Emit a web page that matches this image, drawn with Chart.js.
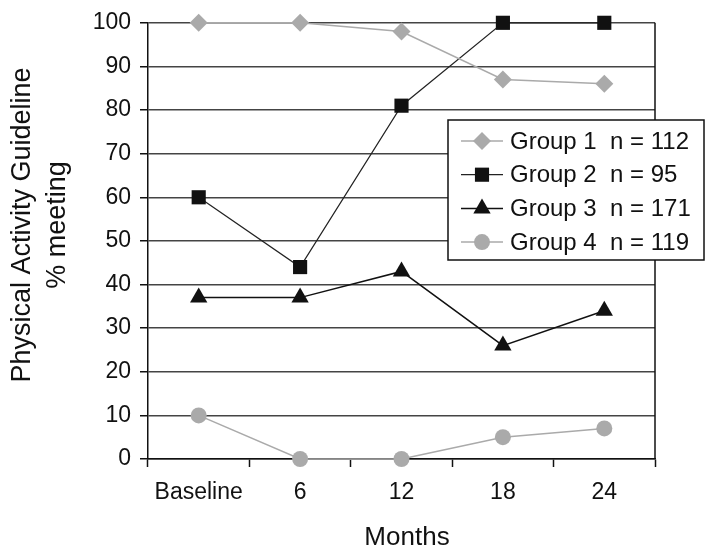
<!DOCTYPE html>
<html>
<head>
<meta charset="utf-8">
<script src="https://cdn.jsdelivr.net/npm/chart.js@4.4.0/dist/chart.umd.min.js"></script>
<style>
  body { margin: 0; background: #fff; }
  canvas { display: block; }
</style>
</head>
<body>
<canvas id="myChart" width="724" height="558"></canvas>
<script>
const months = ["Baseline", "6", "12", "18", "24"];
const groupNames = ["Group 1", "Group 2", "Group 3", "Group 4"];
const groupSizes = [112, 95, 171, 119];
const group1 = [100, 100, 98, 87, 86];
const group2 = [60, 44, 81, 100, 100];
const group3 = [37, 37, 43, 26, 34];
const group4 = [10, 0, 0, 5, 7];
const yTitle = ["Physical Activity Guideline", "% meeting"];
const xTitle = "Months";

const FONT = "'Liberation Sans', Arial, Helvetica, sans-serif";
const GRAY = "#aaaaaa";
const BLACK = "#111111";

// draw a marker like chart.js does, used for the legend
const drawMarker = (ctx, style, r, x, y, color) => {
  ctx.save();
  ctx.fillStyle = color;
  ctx.beginPath();
  if (style === "circle") {
    ctx.arc(x, y, r, 0, Math.PI * 2);
  } else if (style === "rect") {
    const s = r * Math.SQRT1_2;
    ctx.rect(x - s, y - s, 2 * s, 2 * s);
  } else if (style === "rectRot") {
    ctx.moveTo(x, y - r);
    ctx.lineTo(x + r, y);
    ctx.lineTo(x, y + r);
    ctx.lineTo(x - r, y);
    ctx.closePath();
  } else if (style === "triangle") {
    const w = r * Math.sqrt(3) / 2;
    ctx.moveTo(x, y - r);
    ctx.lineTo(x + w, y + r / 2);
    ctx.lineTo(x - w, y + r / 2);
    ctx.closePath();
  }
  ctx.fill();
  ctx.restore();
};

const framePlugin = {
  id: "frame",
  beforeDatasetsDraw(chart) {
    const { ctx, chartArea } = chart;
    ctx.save();
    ctx.strokeStyle = BLACK;
    ctx.lineWidth = 1.5;
    ctx.beginPath();
    ctx.moveTo(chartArea.right, chartArea.top);
    ctx.lineTo(chartArea.right, chartArea.bottom);
    ctx.stroke();
    ctx.restore();
  },
  afterDraw(chart) {
    const { ctx } = chart;
    ctx.save();
    // y axis title, two lines
    ctx.fillStyle = BLACK;
    ctx.font = "27px " + FONT;
    ctx.textAlign = "center";
    ctx.textBaseline = "middle";
    ctx.translate(40, 225);
    ctx.rotate(-Math.PI / 2);
    ctx.fillText(yTitle[0], 0, -17);
    ctx.fillText(yTitle[1], 0, 18);
    ctx.restore();

    ctx.save();
    ctx.fillStyle = BLACK;
    ctx.font = "26px " + FONT;
    ctx.textAlign = "center";
    ctx.textBaseline = "middle";
    ctx.fillText(xTitle, 407, 538);
    ctx.restore();

    // legend box
    const box = { x: 448, y: 120, w: 256, h: 140 };
    ctx.save();
    ctx.fillStyle = "#fff";
    ctx.fillRect(box.x, box.y, box.w, box.h);
    ctx.strokeStyle = BLACK;
    ctx.lineWidth = 1.5;
    ctx.strokeRect(box.x, box.y, box.w, box.h);
    chart.data.datasets.forEach((ds, i) => {
      const y = 141 + i * 33.7;
      ctx.strokeStyle = ds.borderColor;
      ctx.lineWidth = ds.borderWidth;
      ctx.beginPath();
      ctx.moveTo(461, y);
      ctx.lineTo(503, y);
      ctx.stroke();
      drawMarker(ctx, ds.pointStyle, ds.pointRadius, 482, y, ds.pointBackgroundColor);
      ctx.fillStyle = BLACK;
      ctx.font = "24px " + FONT;
      ctx.textAlign = "left";
      ctx.textBaseline = "middle";
      ctx.fillText(ds.label, 510, y + 1);
    });
    ctx.restore();
  },
};

const makeSet = (i, data, color, lineColor, lineWidth, style, radius) => ({
  label: groupNames[i] + "  n = " + groupSizes[i],
  data: data,
  borderColor: lineColor,
  borderWidth: lineWidth,
  pointStyle: style,
  pointRadius: radius,
  pointHoverRadius: radius,
  pointBackgroundColor: color,
  pointBorderColor: color,
  pointBorderWidth: 0,
  tension: 0,
  clip: false,
});

const ctx = document.getElementById("myChart");
new Chart(ctx, {
  type: "line",
  data: {
    labels: months,
    datasets: [
      makeSet(0, group1, GRAY, GRAY, 1.5, "rectRot", 9),
      makeSet(1, group2, BLACK, "#222", 1.2, "rect", 10),
      makeSet(2, group3, BLACK, BLACK, 1.5, "triangle", 10),
      makeSet(3, group4, GRAY, GRAY, 1.5, "circle", 8),
    ],
  },
  plugins: [framePlugin],
  options: {
    responsive: false,
    animation: false,
    layout: { padding: { left: 0, top: 20, right: 69, bottom: 0 } },
    plugins: {
      legend: { display: false },
      tooltip: { enabled: false },
    },
    scales: {
      x: {
        offset: true,
        afterFit: (scale) => { scale.height = 99; },
        grid: {
          offset: true,
          drawOnChartArea: false,
          drawTicks: true,
          tickLength: 8,
          tickColor: BLACK,
          tickWidth: 1.5,
        },
        border: { color: BLACK, width: 1.5 },
        ticks: {
          color: BLACK,
          padding: 12,
          maxRotation: 0,
          font: { family: FONT, size: 23 },
        },
      },
      y: {
        min: 0,
        max: 100,
        afterFit: (scale) => { scale.width = 148; },
        ticks: {
          stepSize: 10,
          color: BLACK,
          padding: 9,
          font: { family: FONT, size: 23 },
        },
        grid: {
          color: "#444",
          lineWidth: 1.5,
          drawTicks: true,
          tickLength: 8,
          tickColor: BLACK,
          tickWidth: 1.5,
        },
        border: { color: BLACK, width: 1.5 },
      },
    },
  },
});
</script>
</body>
</html>
